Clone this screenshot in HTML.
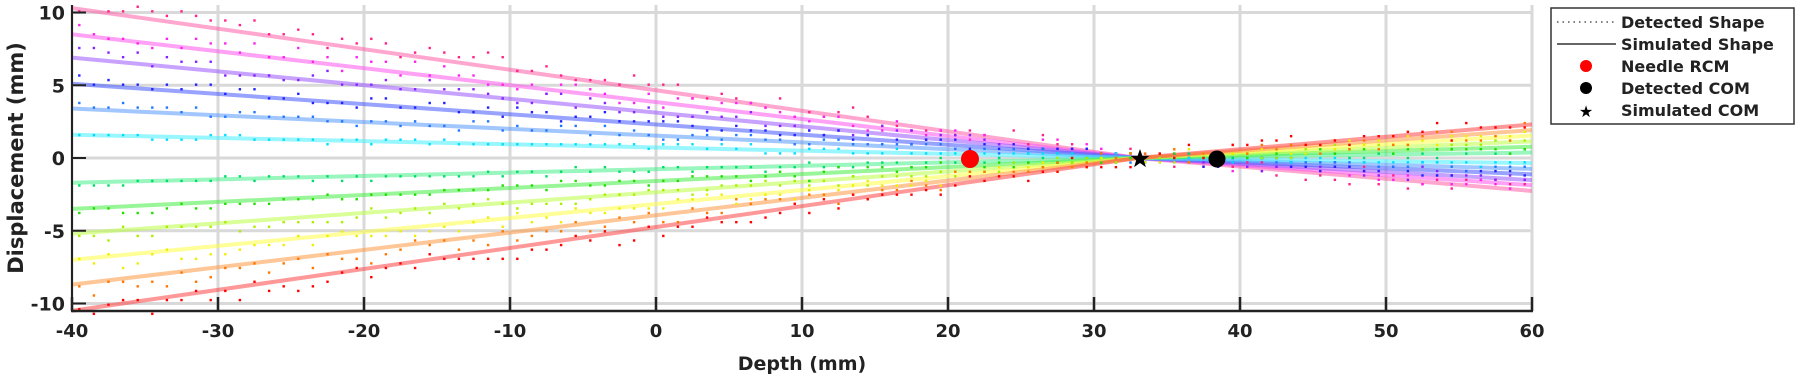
<!DOCTYPE html>
<html><head><meta charset="utf-8"><style>
body{margin:0;background:#fff;}
svg text{font-family:"DejaVu Sans","Liberation Sans",sans-serif;font-weight:bold;fill:#222;}
</style></head><body>
<svg id="s" width="1800" height="380" xmlns="http://www.w3.org/2000/svg">
<g id="grid" stroke="#d9d9d9" stroke-width="3"></g>
<g id="sim" fill="none" stroke-width="4" stroke-opacity="0.55"></g>
<g id="det"></g>
<g id="axes"></g>
<circle cx="970" cy="159" r="9" fill="#ff0000"/>
<circle cx="1217" cy="159" r="8.5" fill="#000"/>
<polygon id="star" fill="#000"/>
<g>
<rect x="1551" y="8" width="243" height="116" fill="#fff" stroke="#333" stroke-width="1.5"/>
<line x1="1557" y1="22" x2="1616" y2="22" stroke="#333" stroke-width="1.2" stroke-dasharray="1.5,4"/>
<line x1="1557" y1="44" x2="1616" y2="44" stroke="#333" stroke-width="1.5"/>
<circle cx="1586" cy="66" r="6" fill="#ff0000"/>
<circle cx="1586" cy="88" r="6" fill="#000"/>
<text x="1586" y="117" font-size="16" text-anchor="middle" style="fill:#000">★</text>
<text x="1621" y="28" font-size="16">Detected Shape</text>
<text x="1621" y="50" font-size="16">Simulated Shape</text>
<text x="1621" y="72" font-size="16">Needle RCM</text>
<text x="1621" y="94" font-size="16">Detected COM</text>
<text x="1621" y="116" font-size="16">Simulated COM</text>
</g>
<text x="802" y="370" font-size="19" text-anchor="middle">Depth (mm)</text>
<text transform="translate(23,158) rotate(-90)" font-size="21" text-anchor="middle">Displacement (mm)</text>
</svg>
<script>
var X=function(d){return 72+(d+40)*14.6;},Y=function(v){return 158-v*14.55;};
var NS="http://www.w3.org/2000/svg";
function el(p,t,a){var e=document.createElementNS(NS,t);for(var k in a)e.setAttribute(k,a[k]);p.appendChild(e);return e;}
var g=document.getElementById('grid'),ax=document.getElementById('axes');
for(var d=-40;d<=60;d+=10){el(g,'line',{x1:X(d),y1:5,x2:X(d),y2:311});}
for(var v=-10;v<=10;v+=5){el(g,'line',{x1:72,y1:Y(v),x2:1532,y2:Y(v)});}
el(ax,'line',{x1:72,y1:5,x2:72,y2:312,stroke:'#222','stroke-width':2});
el(ax,'line',{x1:71,y1:311,x2:1533,y2:311,stroke:'#222','stroke-width':2.5});
for(var d=-40;d<=60;d+=10){el(ax,'line',{x1:X(d),y1:311,x2:X(d),y2:297,stroke:'#222','stroke-width':2.5});
var t=el(ax,'text',{x:X(d),y:337,'font-size':18,'text-anchor':'middle'});t.textContent=d;}
for(var v=-10;v<=10;v+=5){el(ax,'line',{x1:72,y1:Y(v),x2:86,y2:Y(v),stroke:'#222','stroke-width':2});
var t=el(ax,'text',{x:65,y:Y(v)+7,'font-size':19,'text-anchor':'end'});t.textContent=v;}
var starts=[10.3,8.5,6.9,5.1,3.4,1.6,-1.7,-3.5,-5.2,-7.0,-8.7,-10.5];
var cols=['#ff5fa8','#ff55ee','#9955ff','#4455ff','#5599ff','#44eeff','#44ee88','#44ee44','#bbff44','#ffff44','#ff9944','#ff4444'];
var dcols=['#ff2288','#ff22ee','#8822ff','#2222ff','#2277ff','#00ddff','#00dd66','#22dd00','#aaee00','#eeee00','#ff7700','#ff0000'];
var sim=document.getElementById('sim'),det=document.getElementById('det');
var seed=7;function rnd(){seed=(seed*16807)%2147483647;return seed/2147483647;}
function f(v,d){return d<=33? v*(33-d)/73 : -0.22*v*(d-33)/27;}
for(var i=0;i<12;i++){var v=starts[i];
el(sim,'polyline',{points:X(-40)+','+Y(v)+' '+X(33)+','+Y(0)+' '+X(60)+','+Y(-0.22*v),stroke:cols[i]});
for(var d=-39.5;d<=60;d+=1){var y=f(v,d)+(rnd()-0.5)*0.9*(Math.abs(v)/10+0.3);
y=Math.round(y/0.3)*0.3; if(d<33) y=y*1.05;
el(det,'rect',{x:X(d)-1.2,y:Y(y)-1.2,width:2.4,height:2.4,fill:dcols[i]});}}
var p=[],cx=1140,cy=159;for(var k=0;k<10;k++){var r=k%2?4:10,a=-Math.PI/2+k*Math.PI/5;p.push((cx+r*Math.cos(a)).toFixed(1)+','+(cy+r*Math.sin(a)).toFixed(1));}
document.getElementById('star').setAttribute('points',p.join(' '));
</script>
</body></html>
